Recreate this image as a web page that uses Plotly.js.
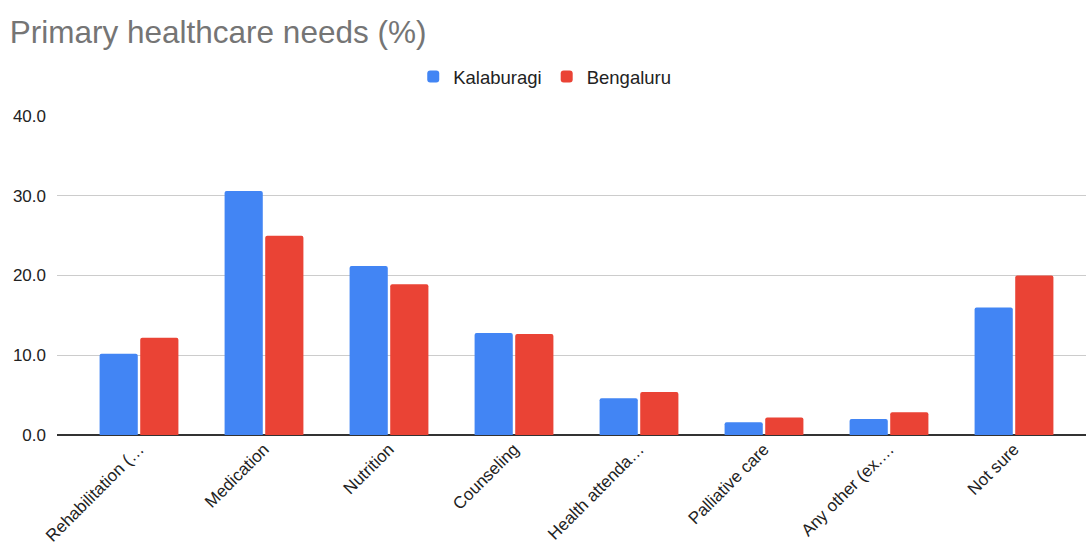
<!DOCTYPE html>
<html>
<head>
<meta charset="utf-8">
<script src="https://cdn.plot.ly/plotly-3.0.1.min.js"></script>
<style>html,body{margin:0;padding:0;background:#fff;}#chart{width:1086px;height:554px;}</style>
</head>
<body>
<div id="chart"></div>
<script>
const categories = ["Rehabilitation (…", "Medication", "Nutrition", "Counseling", "Health attenda…", "Palliative care", "Any other (ex.…", "Not sure"];
const kalaburagi = [10.2, 30.6, 21.2, 12.8, 4.6, 1.6, 2.0, 16.0];
const bengaluru = [12.2, 25.0, 18.9, 12.65, 5.4, 2.2, 2.85, 20.0];
const yTicks = [0, 10, 20, 30, 40];
const yTickLabels = ["0.0", "10.0", "20.0", "30.0", "40.0"];

const FONT = "'Liberation Sans', Arial, sans-serif";

const traces = [
  {type: "bar", name: "Kalaburagi", x: categories, y: kalaburagi, marker: {color: "#4285F4"}, hoverinfo: "x+y+name"},
  {type: "bar", name: "Bengaluru", x: categories, y: bengaluru, marker: {color: "#EA4335"}, hoverinfo: "x+y+name"}
];

const layout = {
  width: 1086, height: 554,
  margin: {l: 57, r: 0, t: 116, b: 119, pad: 0},
  paper_bgcolor: "#fff", plot_bgcolor: "#fff",
  font: {family: FONT, size: 17, color: "#222"},
  title: {text: "Primary healthcare needs (%)", x: 0.009, xanchor: "left", xref: "container", y: 0.942, yanchor: "middle", yref: "container",
          font: {family: FONT, size: 31.5, color: "#757575"}},
  barmode: "group", bargap: 0.35, bargroupgap: 0.06, barcornerradius: 2,
  showlegend: true,
  legend: {orientation: "h", x: 0.474, xanchor: "center", y: 1.122, yanchor: "middle", font: {family: FONT, size: 18.5, color: "#222"}, itemclick: false},
  xaxis: {type: "category", range: [-0.656, 7.576], tickangle: -45, showgrid: false, showline: false, zeroline: false, ticks: "", tickfont: {family: FONT, size: 17, color: "#222"}, automargin: false},
  yaxis: {range: [0, 40], tickvals: yTicks, ticktext: yTickLabels, showgrid: true, gridcolor: "#cccccc", gridwidth: 1, zeroline: true, zerolinecolor: "#333333", zerolinewidth: 2, ticks: "", ticklabelstandoff: 10, tickfont: {family: FONT, size: 17, color: "#222"}, automargin: false, fixedrange: true}
};

Plotly.newPlot("chart", traces, layout, {displayModeBar: false});
</script>
</body>
</html>
